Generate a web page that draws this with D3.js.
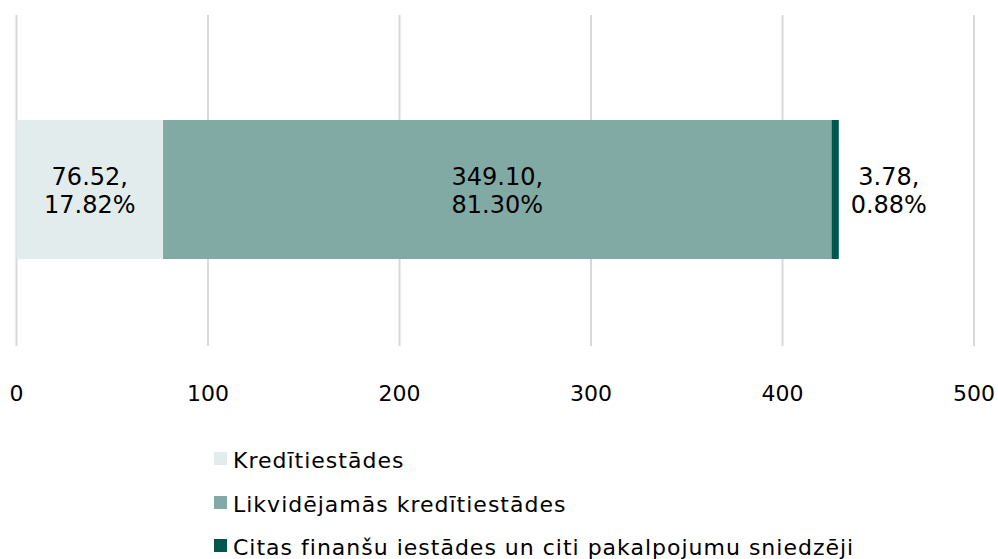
<!DOCTYPE html>
<html>
<head>
<meta charset="utf-8">
<script src="https://cdn.jsdelivr.net/npm/d3@7"></script>
<style>
  body { margin: 0; background: #fff; }
  text { font-family: "DejaVu Sans", Verdana, sans-serif; fill: #000; }
</style>
</head>
<body>
<div class="canva"></div>
<script>
// data
const categories = ["Kredītiestādes", "Likvidējamās kredītiestādes", "Citas finanšu iestādes un citi pakalpojumu sniedzēji"];
const values = [76.52, 349.10, 3.78];
const shares = [17.82, 81.30, 0.88];
const colors = ["#e3ecec", "#82aaa5", "#00564c"];
const ticks = [0, 100, 200, 300, 400, 500];

const svg = d3.select(".canva").append("svg")
    .attr("width", 998)
    .attr("height", 559);

const x = d3.scaleLinear().domain([0, 500]).range([16.5, 974]);

// gridlines
svg.append("g")
    .selectAll("line")
    .data(ticks)
    .enter().append("line")
    .attr("x1", d => x(d)).attr("x2", d => x(d))
    .attr("y1", 15).attr("y2", 346)
    .attr("stroke", "#d9d9d9")
    .attr("stroke-width", 2);

// tick labels
svg.append("g")
    .selectAll("text")
    .data(ticks)
    .enter().append("text")
    .attr("x", d => x(d))
    .attr("y", 401)
    .attr("text-anchor", "middle")
    .style("font-size", "22px")
    .text(d => d);

// stacked segments
let acc = 0;
const segs = values.map((v, i) => {
  const s = {start: acc, end: acc + v, v: v, p: shares[i], c: colors[i]};
  acc += v;
  return s;
});

const barTop = 120, barH = 139;

svg.append("g")
    .selectAll("rect")
    .data(segs)
    .enter().append("rect")
    .attr("x", d => x(d.start))
    .attr("y", barTop)
    .attr("width", d => x(d.end) - x(d.start))
    .attr("height", barH)
    .attr("fill", d => d.c);

// labels: inside for the wide ones, outside for the thin one
const labels = svg.append("g")
    .selectAll("text")
    .data(segs)
    .enter().append("text")
    .attr("text-anchor", "middle")
    .style("font-size", "24px");

labels.each(function(d, i) {
  const cx = i === 2 ? x(d.end) + 50 : (x(d.start) + x(d.end)) / 2;
  const t = d3.select(this);
  t.append("tspan").attr("x", cx).attr("y", 184.5).text(d.v.toFixed(2) + ",");
  t.append("tspan").attr("x", cx).attr("y", 213).text(d.p.toFixed(2) + "%");
});

// legend
const legend = svg.append("g")
    .selectAll("g")
    .data(categories)
    .enter().append("g")
    .attr("transform", (d, i) => `translate(214, ${[468, 512, 555][i]})`);

legend.append("rect")
    .attr("x", 0).attr("y", -16)
    .attr("width", 13).attr("height", 13)
    .attr("fill", (d, i) => colors[i]);

legend.append("text")
    .attr("x", 19)
    .attr("y", 0)
    .style("font-size", "22px")
    .style("letter-spacing", "1px")
    .text(d => d);
</script>
</body>
</html>
